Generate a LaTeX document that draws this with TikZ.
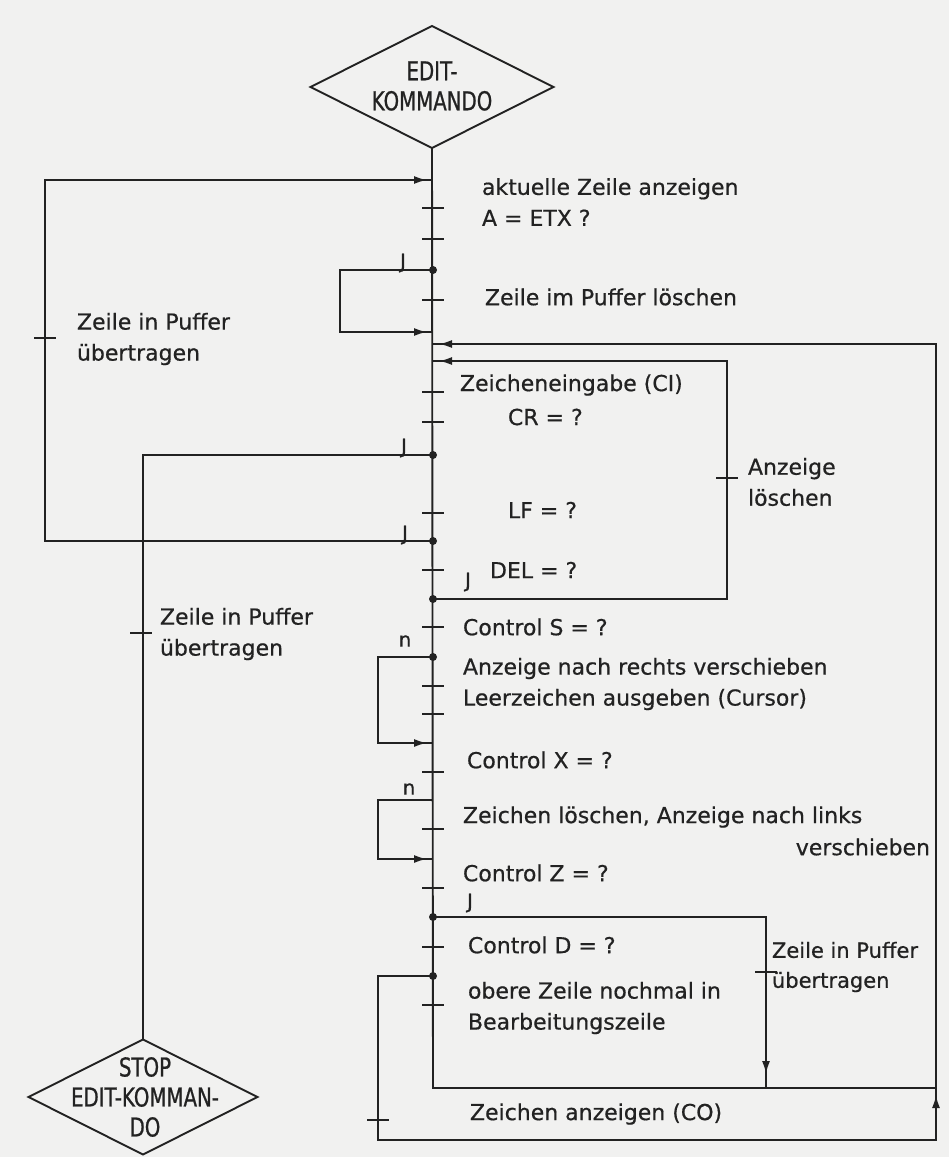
\documentclass[tikz,border=0pt]{standalone}
\usepackage{fontspec}
\setmainfont{DejaVu Sans}[FakeBold=0.6]
\newfontfamily\condfont{DejaVu Sans}[FakeStretch=0.76,FakeBold=0.8]
\usetikzlibrary{shapes.geometric,arrows.meta,decorations.markings}
\definecolor{ink}{HTML}{222222}
\definecolor{paper}{HTML}{F1F1F0}
\begin{document}
\begin{tikzpicture}[x=1pt,y=-1pt,
  every node/.style={inner sep=0pt, outer sep=0pt},
  ln/.style={line width=1.9pt, draw=ink},
  txt/.style={anchor=west, align=left, font=\fontsize{22}{31}\selectfont, text=ink},
  smalltxt/.style={anchor=west, align=left, font=\fontsize{21}{30}\selectfont, text=ink},
  lab/.style={font=\fontsize{20}{22}\selectfont, text=ink},
  diam/.style={diamond, draw=ink, line width=1.9pt},
  dtext/.style={align=center, font=\condfont\fontsize{26}{30}\selectfont, text=ink},
  dot/.style={circle, fill=ink, minimum size=8pt},
  arrin/.style={postaction={decorate}, decoration={markings,
     mark=at position -6pt with {\arrow{Latex[length=13pt,width=8pt]}}}},
]
\fill[paper] (0,0) rectangle (949,1157);
\useasboundingbox (0,0) rectangle (949,1157);

% start / stop
\node[diam, minimum width=243pt, minimum height=122pt] (ek) at (432,87) {};
\node[dtext] (ektxt) at (432,86) {EDIT-\\KOMMANDO};
\node[diam, minimum width=229pt, minimum height=115pt] (stop) at (143,1097) {};
\node[dtext] (stoptxt) at (145,1097) {STOP\\EDIT-KOMMAN-\\DO};

% junction points
\coordinate (a1) at (433,180);
\coordinate (d1) at (433,270);
\coordinate (r1) at (433,332);
\coordinate (rin) at (433,344);
\coordinate (ain) at (433,361);
\coordinate (d2) at (433,455);
\coordinate (d3) at (433,541);
\coordinate (d4) at (433,599);
\coordinate (d5) at (433,657);
\coordinate (r5) at (433,743);
\coordinate (d6) at (433,800);
\coordinate (r6) at (433,859);
\coordinate (d7) at (433,917);
\coordinate (d8) at (433,976);
\coordinate (mend) at (433,1088);
\coordinate (rend) at (936,1088);
% loop corners
\coordinate (c1) at (340,332);
\coordinate (lt) at (45,180);
\coordinate (ib) at (727,361);
\coordinate (c5) at (378,743);
\coordinate (c6) at (378,859);
\coordinate (lb) at (766,1088);
\coordinate (ol) at (378,1140);
\coordinate (or) at (936,1140);

% main line
\draw[ln] (ek.south) -- (mend) -- (rend);

% loops
\draw[ln, arrin] (d3) -| (lt) -- (a1);
\draw[ln, arrin] (d1) -| (c1) -- (r1);
\draw[ln, arrin] (d4) -| (ib) -- (ain);
\draw[ln] (d2) -| (stop.north);
\draw[ln, arrin] (d5) -| (c5) -- (r5);
\draw[ln, arrin] (d6) -| (c6) -- (r6);
\draw[ln, postaction={decorate}, decoration={markings,
     mark=at position -14pt with {\arrow{Latex[length=13pt,width=8pt]}}}] (d7) -| (lb);
\draw[ln, postaction={decorate}, decoration={markings,
     mark=at position 822pt with {\arrow{Latex[length=13pt,width=8pt]}},
     mark=at position -6pt with {\arrow{Latex[length=13pt,width=8pt]}}}]
   (d8) -| (ol) -- (or) |- (rin);

% dots
\foreach \p in {d1,d2,d3,d4,d5,d7,d8} \node[dot] at (\p) {};

% ticks on main line
\foreach \y in {208,239,300,392,422,513,570,627,686,714,772,829,888,947,1005}
  \draw[ln] (422,\y) -- (444,\y);
% ticks on side branches
\draw[ln] (34,338) -- (56,338);
\draw[ln] (130,633) -- (152,633);
\draw[ln] (716,478) -- (738,478);
\draw[ln] (755,972) -- (777,972);
\draw[ln] (367,1120) -- (389,1120);

% J / n labels
\node[lab] (j1) at (403,263) {J};
\node[lab] (j2) at (404,448) {J};
\node[lab] (j3) at (405,535) {J};
\node[lab] (j4) at (468,582) {J};
\node[lab] (j5) at (470,903) {J};
\node[lab] (n1) at (405,641) {n};
\node[lab] (n2) at (409,789) {n};

% texts
\node[txt] (t1) at (482,202) {aktuelle Zeile anzeigen\\A = ETX ?};
\node[txt] (t2) at (485,297) {Zeile im Puffer löschen};
\node[txt] (t3) at (77,339) {Zeile in Puffer\\übertragen};
\node[txt] (t4) at (460,385) {Zeicheneingabe (CI)};
\node[txt] (t5) at (508,417) {CR = ?};
\node[txt] (t6) at (748,482) {Anzeige\\löschen};
\node[txt] (t7) at (508,510) {LF = ?};
\node[txt] (t8) at (490,570) {DEL = ?};
\node[txt] (t9) at (160,634) {Zeile in Puffer\\übertragen};
\node[txt] (t10) at (463,627) {Control S = ?};
\node[txt] (t11) at (463,684) {Anzeige nach rechts verschieben\\Leerzeichen ausgeben (Cursor)};
\node[txt] (t12) at (467,760) {Control X = ?};
\node[txt] (t13) at (463,817) {Zeichen löschen, Anzeige nach links};
\node[txt, anchor=east] (t14) at (930,847) {verschieben};
\node[txt] (t15) at (463,873) {Control Z = ?};
\node[txt] (t16) at (468,945) {Control D = ?};
\node[txt] (t17) at (468,1008) {obere Zeile nochmal in\\Bearbeitungszeile};
\node[smalltxt] (t18) at (772,967) {Zeile in Puffer\\übertragen};
\node[txt] (t19) at (470,1114) {Zeichen anzeigen (CO)};
\end{tikzpicture}
\end{document}
